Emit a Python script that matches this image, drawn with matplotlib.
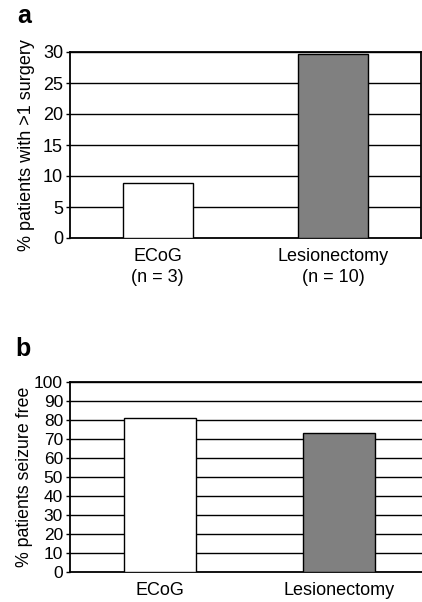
import matplotlib.pyplot as plt
import numpy as np

plt.rcParams['font.family'] = ['Liberation Sans', 'DejaVu Sans']

groups_a = ["ECoG\n(n = 3)", "Lesionectomy\n(n = 10)"]
reop_pct = [8.9, 29.6]
groups_b = ["ECoG", "Lesionectomy"]
seizure_free_pct = [81.3, 73.4]
bar_colors = ["white", "#808080"]

fig = plt.figure(figsize=(4.22, 6.02), dpi=100)
W, H = 422, 602


def panel(rect, cats, vals, yticks, ylabel, letter, letter_xy, lab_size, lab_pad):
    ax = fig.add_axes([rect[0] / W, 1 - rect[3] / H, (rect[2] - rect[0]) / W, (rect[3] - rect[1]) / H])
    x = np.arange(len(cats)) + 0.5
    ax.bar(x, vals, width=0.4, color=bar_colors, edgecolor='black', linewidth=1.0, zorder=3)
    ax.set_xlim(0, 2)
    ax.set_ylim(yticks[0], yticks[-1])
    ax.set_yticks(yticks)
    for t in yticks[1:]:
        ax.axhline(t, color='black', lw=1.0, zorder=1)
    ax.set_xticks(x)
    ax.set_xticklabels(cats, fontsize=13, linespacing=1.3)
    ax.tick_params(axis='x', length=0, pad=7)
    ax.tick_params(axis='y', length=3, width=1, labelsize=13, pad=2)
    for s in ax.spines.values():
        s.set_linewidth(1.3)
    ax.set_ylabel(ylabel, fontsize=lab_size, labelpad=lab_pad)
    fig.text(letter_xy[0] / W, 1 - letter_xy[1] / H, letter, fontsize=18, fontweight='bold',
             ha='left', va='baseline')
    return ax


panel((70, 52, 421, 238), groups_a, reop_pct, list(range(0, 31, 5)),
      "% patients with >1 surgery", "a", (17, 23), 13, 6)
ax_b = panel((70, 382, 429, 572), groups_b, seizure_free_pct, list(range(0, 101, 10)),
             "% patients seizure free", "b", (15, 356), 12.8, 1)
ax_b.tick_params(axis='y', labelsize=12.5)

fig.savefig("out.png", dpi=100)
